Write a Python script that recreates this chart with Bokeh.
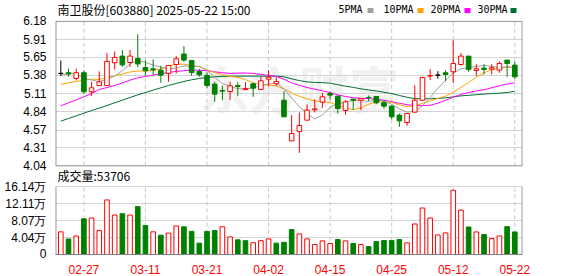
from bokeh.plotting import figure
from bokeh.models import Range1d, FixedTicker, Grid, ColumnDataSource
from bokeh.core.properties import value
from bokeh.embed import file_html
from bokeh.resources import INLINE

# ---------------- data ----------------
dates = ["02-24", "02-25", "02-26", "02-27", "02-28",
         "03-03", "03-04", "03-05", "03-06", "03-07", "03-10", "03-11", "03-12", "03-13", "03-14",
         "03-17", "03-18", "03-19", "03-20", "03-21", "03-24", "03-25", "03-26", "03-27", "03-28", "03-31",
         "04-01", "04-02", "04-03", "04-07", "04-08", "04-09", "04-10", "04-11", "04-14", "04-15",
         "04-16", "04-17", "04-18", "04-21", "04-22", "04-23", "04-24", "04-25", "04-28", "04-29", "04-30",
         "05-06", "05-07", "05-08", "05-09", "05-12", "05-13", "05-14", "05-15", "05-16", "05-19",
         "05-20", "05-21", "05-22"]

opens = [5.41, 5.42, 5.335, 5.42, 5.137, 5.23, 5.23, 5.567, 5.666, 5.572,
         5.63, 5.498, 5.478, 5.458, 5.409, 5.542, 5.696, 5.602, 5.439, 5.379,
         5.251, 5.157, 5.142, 5.231, 5.17, 5.256, 5.172, 5.325, 5.256, 5.013,
         4.41, 4.549, 4.717, 4.87, 4.984, 5.112, 5.073, 4.86, 5.028, 5.013,
         5.053, 5.068, 4.974, 4.924, 4.791, 4.682, 4.836, 5.013, 5.37, 5.384,
         5.419, 5.434, 5.542, 5.666, 5.453, 5.488, 5.473, 5.458, 5.607, 5.532]
highs = [5.60, 5.48, 5.48, 5.458, 5.285, 5.44, 5.71, 5.735, 5.755, 5.755,
         5.99, 5.607, 5.617, 5.523, 5.53, 5.666, 5.814, 5.602, 5.473, 5.424,
         5.285, 5.231, 5.285, 5.28, 5.28, 5.256, 5.359, 5.458, 5.35, 5.147,
         4.79, 4.83, 4.949, 5.028, 5.122, 5.137, 5.073, 5.013, 5.03, 5.04,
         5.083, 5.073, 5.013, 4.939, 4.816, 4.816, 5.236, 5.36, 5.473, 5.443,
         5.458, 5.903, 5.71, 5.666, 5.547, 5.547, 5.547, 5.587, 5.607, 5.587]
lows = [5.37, 5.36, 5.305, 5.112, 5.073, 5.23, 5.23, 5.468, 5.508, 5.508,
        5.50, 5.374, 5.384, 5.27, 5.285, 5.409, 5.582, 5.374, 5.359, 5.196,
        4.989, 5.013, 5.013, 5.073, 5.16, 5.063, 5.162, 5.221, 5.221, 4.766,
        4.41, 4.232, 4.717, 4.83, 4.90, 5.023, 4.816, 4.796, 4.865, 4.865,
        5.0, 4.954, 4.885, 4.727, 4.618, 4.633, 4.82, 5.0, 5.31, 5.33,
        5.295, 5.27, 5.527, 5.434, 5.374, 5.394, 5.394, 5.419, 5.359, 5.33]
closes = [5.41, 5.40, 5.42, 5.137, 5.196, 5.285, 5.587, 5.646, 5.537, 5.666,
          5.55, 5.448, 5.463, 5.384, 5.528, 5.626, 5.607, 5.424, 5.389, 5.231,
          5.102, 5.147, 5.226, 5.216, 5.185, 5.191, 5.30, 5.354, 5.29, 4.766,
          4.519, 4.638, 4.865, 4.885, 5.063, 5.088, 4.89, 4.989, 5.013, 5.04,
          5.05, 4.974, 4.924, 4.766, 4.707, 4.816, 5.013, 5.35, 5.38, 5.384,
          5.394, 5.557, 5.666, 5.468, 5.478, 5.468, 5.493, 5.557, 5.557, 5.359]

ma5 = [5.38, 5.41, 5.41, 5.335, 5.313, 5.288, 5.325, 5.370, 5.450, 5.552,
       5.599, 5.571, 5.534, 5.504, 5.476, 5.490, 5.522, 5.514, 5.515, 5.455,
       5.351, 5.259, 5.219, 5.184, 5.178, 5.196, 5.227, 5.252, 5.267, 5.180,
       5.046, 4.913, 4.816, 4.735, 4.794, 4.908, 4.958, 4.983, 5.009, 5.004,
       4.996, 5.013, 5.000, 4.951, 4.884, 4.837, 4.845, 4.930, 5.055, 5.191,
       5.306, 5.415, 5.478, 5.494, 5.513, 5.527, 5.515, 5.493, 5.511, 5.487]
ma10 = [5.246, 5.27, 5.29, 5.31, 5.325, 5.32, 5.35, 5.374, 5.399, 5.432,
        5.444, 5.448, 5.452, 5.477, 5.514, 5.545, 5.547, 5.524, 5.510, 5.466,
        5.421, 5.391, 5.367, 5.350, 5.317, 5.274, 5.243, 5.236, 5.226, 5.179,
        5.121, 5.070, 5.034, 5.001, 4.987, 4.977, 4.936, 4.900, 4.872, 4.899,
        4.952, 4.986, 4.992, 4.980, 4.944, 4.917, 4.929, 4.965, 5.003, 5.038,
        5.072, 5.130, 5.204, 5.275, 5.352, 5.417, 5.465, 5.486, 5.503, 5.500]
ma20 = [4.929, 4.974, 5.018, 5.063, 5.112, 5.172, 5.201, 5.231, 5.27, 5.31,
        5.345, 5.364, 5.384, 5.404, 5.424, 5.439, 5.449, 5.458, 5.458, 5.449,
        5.433, 5.420, 5.410, 5.414, 5.416, 5.410, 5.395, 5.380, 5.368, 5.323,
        5.271, 5.231, 5.201, 5.176, 5.152, 5.126, 5.090, 5.068, 5.049, 5.039,
        5.037, 5.028, 5.013, 4.991, 4.966, 4.947, 4.933, 4.933, 4.938, 4.969,
        5.012, 5.058, 5.098, 5.128, 5.148, 5.167, 5.197, 5.226, 5.253, 5.269]
ma30 = [4.702, 4.742, 4.781, 4.821, 4.86, 4.895, 4.934, 4.974, 5.013, 5.053,
        5.092, 5.127, 5.162, 5.196, 5.231, 5.26, 5.29, 5.315, 5.334, 5.349,
        5.359, 5.364, 5.369, 5.369, 5.369, 5.369, 5.369, 5.369, 5.369, 5.359,
        5.329, 5.303, 5.284, 5.276, 5.273, 5.265, 5.242, 5.220, 5.203, 5.181,
        5.165, 5.149, 5.131, 5.110, 5.083, 5.056, 5.036, 5.034, 5.034, 5.039,
        5.048, 5.062, 5.077, 5.085, 5.094, 5.104, 5.110, 5.117, 5.126, 5.146]

volumes = [5.4, 3.7, 4.4, 8.5, 8.7, 5.7, 13.0, 9.4, 9.7, 9.4,
           11.4, 6.9, 5.4, 4.6, 5.1, 6.8, 6.6, 5.5, 2.7, 5.5,
           5.7, 6.6, 4.2, 3.5, 3.3, 2.8, 3.3, 3.7, 2.7, 2.9,
           5.93, 4.90, 3.72, 2.37, 3.24, 2.61, 3.56, 3.24, 2.61, 2.37,
           1.90, 3.08, 3.32, 3.32, 3.56, 2.77, 7.27, 11.07, 8.70, 4.66,
           5.14, 15.3, 10.59, 6.56, 5.38, 4.74, 3.79, 4.43, 6.64, 5.3706]
vol_up = [1, 0, 1, 0, 1, 1, 1, 1, 0, 1,
          0, 0, 1, 0, 1, 1, 0, 0, 0, 0,
          0, 1, 1, 0, 0, 1, 1, 1, 0, 0,
          0, 1, 1, 1, 1, 1, 0, 1, 0, 1,
          0, 0, 0, 0, 0, 1, 1, 1, 1, 1,
          1, 1, 1, 0, 1, 0, 1, 1, 0, 0]

price_ticks = ["4.04", "4.31", "4.57", "4.84", "5.11", "5.38", "5.65", "5.91", "6.18"]
vol_ticks = ["0", "4.04万", "8.07万", "12.11万", "16.14万"]
vol_tick_vals = [0, 4.04, 8.07, 12.11, 16.14]
date_ticks = ["02-27", "03-11", "03-21", "04-02", "04-15", "04-25", "05-12", "05-22"]

title_text = "南卫股份[603880] 2025-05-22 15:00"
vol_caption = "成交量:53706"
ma_names = ["5PMA", "10PMA", "20PMA", "30PMA"]

# ---------------- styles / layout (pixels) ----------------
RED = "#ff0000"
GREEN = "#008000"
MA_COLORS = ["#a0a0a0", "#ffa500", "#ff00ff", "#007030"]
GRID_C = "#d4d4d4"
VGRID_C = "#c8c8c8"
FRAME = "#9a9a9a"
FONT = "Liberation Sans"
CJK = "Noto Sans CJK SC"
MONO = "DejaVu Sans Mono"

W, H = 578, 276
L_PX, R_PX = 55, 522            # frame left/right
BOT_PX = 255                     # frame bottom (volume zero line)
P_TOP_PX, P_BOT_PX = 21, 166     # price panel 6.18 .. 4.04
V_TOP_PX = 187                   # volume 16.14
P_MIN, P_MAX = 4.04, 6.18
V_MAX = 16.14
X0, X1 = -0.69, 60.0             # slot range

def xd(px):
    return X0 + (px - L_PX) * (X1 - X0) / (R_PX - L_PX)

def py(px):
    return P_MAX - (px - P_TOP_PX) * (P_MAX - P_MIN) / (P_BOT_PX - P_TOP_PX)

def vy(px):
    return (BOT_PX - px) * V_MAX / (BOT_PX - V_TOP_PX)

def v_to_p(v):
    return py(BOT_PX - v * (BOT_PX - V_TOP_PX) / V_MAX)

n = len(dates)
xs = list(range(n))
tick_idx = [dates.index(d) for d in date_ticks]

def ccol(o, c):
    return RED if c > o else (GREEN if c < o else "#000000")

def cfill(o, c):
    return "#ffffff" if c > o else (GREEN if c < o else "#000000")

src = ColumnDataSource(dict(
    x=xs, o=opens, h=highs, l=lows, c=closes,
    top=[max(o, c) for o, c in zip(opens, closes)],
    bot=[min(o, c) for o, c in zip(opens, closes)],
    col=[ccol(o, c) for o, c in zip(opens, closes)],
    fill=[cfill(o, c) for o, c in zip(opens, closes)],
))
vsrc = ColumnDataSource(dict(
    x=xs, v=volumes,
    col=[RED if u else GREEN for u in vol_up],
    fill=["#ffffff" if u else GREEN for u in vol_up],
))

p = figure(width=W, height=H, x_range=Range1d(X0, X1), y_range=Range1d(py(BOT_PX), py(0)),
           output_backend="svg", toolbar_location=None,
           min_border_left=L_PX, min_border_right=W - R_PX, min_border_top=0,
           min_border_bottom=H - BOT_PX)
p.extra_y_ranges = {"vol": Range1d(0, vy(0))}
p.outline_line_color = None
p.xgrid.visible = False
p.ygrid.visible = False

# left axis: price ticks + volume ticks (mapped onto the same axis)
pt_vals = [round(float(s), 6) for s in price_ticks]
vt_vals = [round(v_to_p(v), 6) for v in vol_tick_vals]
all_ticks = pt_vals + vt_vals
overrides = {v: s for v, s in zip(pt_vals, price_ticks)}
overrides.update({v: s for v, s in zip(vt_vals, vol_ticks)})
p.yaxis.ticker = FixedTicker(ticks=all_ticks)
p.yaxis.major_label_overrides = overrides
p.yaxis.axis_line_color = None
p.yaxis.major_tick_line_color = None
p.yaxis.minor_tick_line_color = None
p.yaxis.major_label_text_font = FONT
p.yaxis.major_label_text_font_size = "12px"
p.yaxis.major_label_text_color = "#000000"
p.yaxis.major_label_standoff = 3

p.xaxis.ticker = FixedTicker(ticks=tick_idx)
p.xaxis.major_label_overrides = {i: d for i, d in zip(tick_idx, date_ticks)}
p.xaxis.axis_line_color = "#808080"
p.xaxis.major_tick_line_color = None
p.xaxis.minor_tick_line_color = None
p.xaxis.major_label_text_font = FONT
p.xaxis.major_label_text_font_size = "12px"
p.xaxis.major_label_text_color = RED
p.xaxis.major_label_standoff = 4

# horizontal grid lines
p.add_layout(Grid(dimension=1, ticker=FixedTicker(ticks=all_ticks), grid_line_color=GRID_C))

# vertical dashed grid lines, separately in both panels
nt = len(tick_idx)
p.segment(x0=tick_idx, y0=[P_MIN] * nt, x1=tick_idx, y1=[P_MAX] * nt,
          line_color=VGRID_C, line_dash="4 3", line_width=1)
p.segment(x0=tick_idx, y0=[0] * nt, x1=tick_idx, y1=[V_MAX] * nt,
          line_color=VGRID_C, line_dash="4 3", line_width=1, y_range_name="vol")

# panel frames
p.segment(x0=[X0, X1], y0=[P_MIN, P_MIN], x1=[X0, X1], y1=[P_MAX, P_MAX],
          line_color=FRAME, line_width=2)
p.segment(x0=[X0, X0], y0=[P_MAX, P_MIN], x1=[X1, X1], y1=[P_MAX, P_MIN],
          line_color=FRAME, line_width=1)
p.segment(x0=[X0, X1], y0=[0, 0], x1=[X0, X1], y1=[V_MAX, V_MAX],
          line_color=FRAME, line_width=2, y_range_name="vol")

# watermark
p.text(x=[31], y=[5.21], text=["东方财富"], text_font=value(CJK), text_font_size="50px",
       text_color="#d8d8d8", text_alpha=0.35, text_align="center", text_baseline="middle",
       text_font_style="bold")

# moving averages
for arr, colr in zip([ma30, ma20, ma10, ma5], MA_COLORS[::-1]):
    p.line(xs, arr, line_color=colr, line_width=1)

# candles
p.segment(x0="x", y0="h", x1="x", y1="l", line_color="col", line_width=1, source=src)
p.vbar(x="x", width=0.6, top="top", bottom="bot", fill_color="fill", line_color="col",
       line_width=1, source=src)

# volume bars
p.vbar(x="x", width=0.6, top="v", bottom=0, fill_color="fill", line_color="col",
       line_width=1, source=vsrc, y_range_name="vol")

# title, legend, volume caption
p.text(x=[xd(57)], y=[py(9)], text=[title_text], text_font=value(CJK), text_font_size="12px",
       text_color="#000000", text_baseline="middle", text_align="left")
leg_text_px = [338, 383, 430, 477]
leg_sq_px = [370, 420, 467, 513]
p.text(x=[xd(v) for v in leg_text_px], y=[py(9.5)] * 4, text=ma_names, text_font=value(MONO),
       text_font_size="10px", text_color="#000000", text_baseline="middle", text_align="left")
p.rect(x=[xd(v) for v in leg_sq_px], y=[py(10)] * 4, width=6, height=5, width_units="screen",
       height_units="screen", fill_color=MA_COLORS, line_color=None)
p.text(x=[xd(57)], y=[py(176)], text=[vol_caption], text_font=value(CJK),
       text_font_size="12px", text_color="#000000", text_baseline="middle", text_align="left")

open("out.html", "w").write(file_html(p, INLINE))
